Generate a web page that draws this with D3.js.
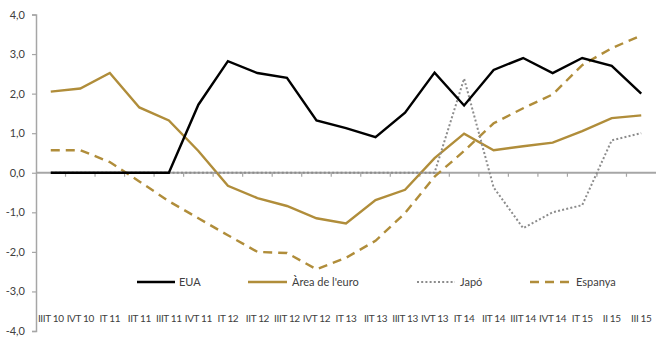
<!DOCTYPE html>
<html>
<head>
<meta charset="utf-8">
<script src="https://cdn.jsdelivr.net/npm/d3@7"></script>
<style>
  html, body { margin: 0; padding: 0; background: #fff; }
  svg { display: block; font-family: Lato, "Open Sans", sans-serif; }
</style>
</head>
<body>
<svg id="chart" width="656" height="353"></svg>
<script>
// Quarters on the horizontal axis
const quarters = ["IIIT 10", "IVT 10", "IT 11", "IIT 11", "IIIT 11", "IVT 11",
  "IT 12", "IIT 12", "IIIT 12", "IVT 12", "IT 13", "IIT 13", "IIIT 13", "IVT 13",
  "IT 14", "IIT 14", "IIIT 14", "IVT 14", "IT 15", "II 15", "III 15"];

// Series values (%)
const eua     = [0, 0, 0, 0, 0, 1.72, 2.82, 2.52, 2.4, 1.32, 1.13, 0.9, 1.52, 2.53, 1.7, 2.6, 2.9, 2.52, 2.9, 2.7, 2.0];
const areaEur = [2.05, 2.13, 2.52, 1.65, 1.32, 0.55, -0.33, -0.64, -0.84, -1.15, -1.28, -0.69, -0.43, 0.37, 0.99, 0.57, 0.67, 0.76, 1.05, 1.38, 1.45];
const japo    = [0, 0, 0, 0, 0, 0, 0, 0, 0, 0, 0, 0, 0, 0, 2.38, -0.37, -1.4, -1.0, -0.82, 0.82, 1.0];
const espanya = [0.57, 0.57, 0.27, -0.22, -0.72, -1.15, -1.58, -2.0, -2.03, -2.44, -2.15, -1.72, -1.02, -0.1, 0.55, 1.25, 1.63, 1.98, 2.72, 3.15, 3.47];

const yTicks = [4, 3, 2, 1, 0, -1, -2, -3, -4];

const series = [
  { name: "EUA", values: eua, color: "#000000", width: 2.4, dash: null },
  { name: "\u00c0rea de l'euro", values: areaEur, color: "#B08D3A", width: 2.4, dash: null },
  { name: "Jap\u00f3", values: japo, color: "#8c8c8c", width: 2, dash: "2,2.2" },
  { name: "Espanya", values: espanya, color: "#B08D3A", width: 2.4, dash: "9,6" }
];

const svg = d3.select("#chart");
const axisColor = "#a6a6a6";
const textColor = "#404040";

const x = d3.scaleBand().domain(quarters).range([36, 656]);
const y = d3.scaleLinear().domain([-4, 4]).range([331, 14.5]);
const fmt = v => d3.format(".1f")(v).replace(".", ",").replace("\u2212", "-");

// Vertical axis
const yAxis = svg.append("g").attr("transform", "translate(36,0)")
  .call(d3.axisLeft(y).tickValues(yTicks).tickSize(4).tickPadding(7).tickFormat(fmt));
yAxis.select(".domain").attr("stroke", axisColor).attr("stroke-width", 1.5);
yAxis.selectAll(".tick line").attr("stroke", axisColor).attr("stroke-width", 1.2);
yAxis.selectAll(".tick text").attr("fill", textColor).style("font-size", "11px")
  .style("font-family", "Lato, sans-serif");

// Horizontal axis on the zero line, ticks between categories
const bounds = quarters.map(q => x(q)).slice(1);
const xAxisG = svg.append("g");
xAxisG.append("line")
  .attr("x1", 36).attr("x2", 656).attr("y1", y(0)).attr("y2", y(0))
  .attr("stroke", axisColor).attr("stroke-width", 1.8);
xAxisG.selectAll("line.tk").data(bounds).join("line").attr("class", "tk")
  .attr("x1", d => d).attr("x2", d => d)
  .attr("y1", y(0)).attr("y2", y(0) + 4)
  .attr("stroke", axisColor).attr("stroke-width", 1.2);

// Category labels along the bottom
svg.append("g").selectAll("text").data(quarters).join("text")
  .attr("x", d => x(d) + x.bandwidth() / 2)
  .attr("y", 322)
  .attr("text-anchor", "middle")
  .attr("fill", textColor)
  .style("font-size", "10px")
  .style("letter-spacing", "-0.35px")
  .text(d => d);

// Series lines
const line = d3.line()
  .x((d, i) => x(quarters[i]) + x.bandwidth() / 2)
  .y(d => y(d));

const drawOrder = [series[3], series[1], series[2], series[0]];
svg.append("g").selectAll("path").data(drawOrder).join("path")
  .attr("d", s => line(s.values))
  .attr("fill", "none")
  .attr("stroke", s => s.color)
  .attr("stroke-width", s => s.width)
  .attr("stroke-dasharray", s => s.dash)
  .attr("stroke-linejoin", "miter");

// Legend
const legendPos = [
  { x1: 137, x2: 175, tx: 179 },
  { x1: 248, x2: 287, tx: 292 },
  { x1: 417, x2: 455, tx: 460 },
  { x1: 530, x2: 570, tx: 576 }
];
const ly = 282;
const lg = svg.append("g").selectAll("g").data(series).join("g");
lg.append("line")
  .attr("x1", (s, i) => legendPos[i].x1).attr("x2", (s, i) => legendPos[i].x2)
  .attr("y1", ly).attr("y2", ly)
  .attr("stroke", s => s.color)
  .attr("stroke-width", s => s.width)
  .attr("stroke-dasharray", s => s.dash);
lg.append("text")
  .attr("x", (s, i) => legendPos[i].tx)
  .attr("y", ly + 4)
  .attr("fill", textColor)
  .style("font-size", "11px")
  .text(s => s.name);
</script>
</body>
</html>
